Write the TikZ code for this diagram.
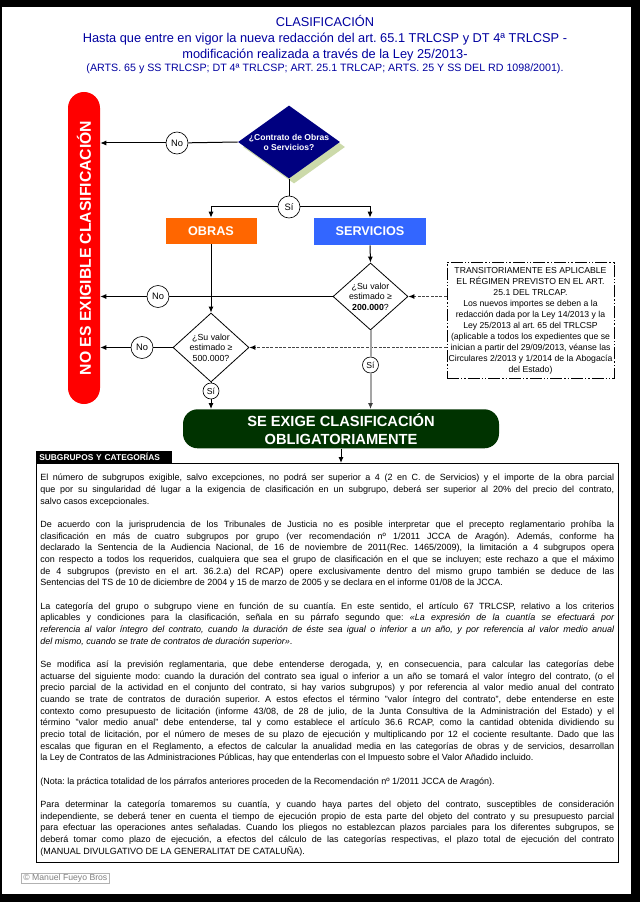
\documentclass[tikz,border=0pt]{standalone}
\usepackage{fontspec}
\setmainfont{Liberation Sans}
\usepackage{graphicx}
\usetikzlibrary{shapes.geometric,arrows.meta,shadows}
\definecolor{titleblue}{RGB}{0,0,160}
\definecolor{navyd}{RGB}{0,0,128}
\definecolor{shadowg}{RGB}{204,218,170}
\definecolor{obrasor}{RGB}{255,102,0}
\definecolor{servbl}{RGB}{51,102,255}
\definecolor{exigegr}{RGB}{0,51,0}
\definecolor{redbarc}{RGB}{255,0,0}
\definecolor{grayline}{RGB}{165,165,165}
\definecolor{copygray}{RGB}{128,128,128}
\definecolor{dashgray}{RGB}{70,70,70}
\frenchspacing
\begin{document}
\begin{tikzpicture}[x=0.75pt,y=-0.75pt,
  conn/.style={line width=0.75pt, draw=black},
  arr/.style={conn,-{Latex[length=4.5pt,width=3.75pt]}},
  lbl/.style={circle, draw=black, fill=white, line width=0.5pt, inner sep=0pt, minimum size=16.5pt, font=\fontsize{7}{8}\selectfont},
  lbls/.style={lbl, minimum size=12pt, font=\fontsize{6.5}{7.5}\selectfont},
  dec/.style={diamond, draw=black, line width=0.6pt, fill=white, inner sep=0pt},
  dectext/.style={font=\fontsize{6.6}{7.9}\selectfont, align=center},
  colbox/.style={text=white, inner sep=0pt, font=\fontsize{9.5}{10}\selectfont\bfseries},
  titletext/.style={text=titleblue, inner sep=0pt, anchor=base, font=\fontsize{9.6}{11}\selectfont},
  dashconn/.style={line width=0.75pt, draw=dashgray, dash pattern=on 2.25pt off 1pt, -{Latex[length=4.5pt,width=3.75pt,black]}}
]
\fill[black] (0,0) rectangle (640,902);
\fill[white] (2,7) rectangle (631,894);
\useasboundingbox (0,0) rectangle (640,902);

% titles
\node[titletext] (t1) at (325,26.6) {CLASIFICACIÓN};
\node[titletext] (t2) at (325,42.6) {Hasta que entre en vigor la nueva redacción del art. 65.1 TRLCSP y DT 4ª TRLCSP -};
\node[titletext] (t3) at (325,58.6) {modificación realizada a través de la Ley 25/2013-};
\node[titletext, font=\fontsize{8}{9}\selectfont] (t4) at (325,71.8) {(ARTS. 65 y SS TRLCSP; DT 4ª TRLCSP; ART. 25.1 TRLCAP; ARTS. 25 Y SS DEL RD 1098/2001).};

% red bar
\node[fill=redbarc, rounded corners=12pt, minimum width=24pt, minimum height=234pt, inner sep=0pt, text=white] (noexig) at (84,248)
  {\rotatebox{90}{\fontsize{11.8}{12}\selectfont\bfseries NO ES EXIGIBLE CLASIFICACIÓN}};

% diamond 1
\node[diamond, fill=navyd, draw=none, inner sep=0pt, minimum width=76.5pt, minimum height=54.75pt,
  general shadow={fill=shadowg, shadow xshift=3.75pt, shadow yshift=-3.75pt},
  label={[font=\fontsize{6.4}{7.5}\selectfont\bfseries, text=white, align=center]center:{¿Contrato de Obras\\o Servicios?}}] (d1) at (289,142) {};

\node[lbl] (no1) at (177,143) {No};
\node[lbl] (si1) at (289,207) {Sí};

\node[colbox, fill=obrasor, minimum width=68.25pt, minimum height=19.5pt] (obras) at (211,231) {OBRAS};
\node[colbox, fill=servbl, minimum width=84pt, minimum height=20.25pt] (serv) at (370,231.5) {SERVICIOS};

\node[dec, minimum width=56.25pt, minimum height=50.25pt,
  label={[dectext]center:{¿Su valor\\estimado ≥\\\textbf{200.000}?}}] (d2) at (370.5,296.5) {};
\node[dec, minimum width=57pt, minimum height=51.75pt,
  label={[dectext]center:{¿Su valor\\estimado ≥\\500.000?}}] (d3) at (211,347.5) {};

\node[lbl] (no2) at (158,296.5) {No};
\node[lbl] (no3) at (142,347.5) {No};
\node[lbls] (si2) at (370.5,365) {Sí};
\node[lbls] (si3) at (211,391) {Sí};

% transitorio box
\node[draw=black, line width=0.75pt, dash pattern=on 9pt off 1.5pt on 1pt off 1.5pt on 1pt off 1.5pt,
  minimum width=125.25pt, minimum height=86.25pt, inner xsep=1pt, align=center,
  font=\fontsize{6.5}{8.25}\selectfont] (trans) at (530.5,320.5)
  {TRANSITORIAMENTE ES APLICABLE\\EL RÉGIMEN PREVISTO EN EL ART.\\25.1 DEL TRLCAP.\\Los nuevos importes se deben a la\\redacción dada por la Ley 14/2013 y la\\Ley 25/2013 al art. 65 del TRLCSP\\(aplicable a todos los expedientes que se\\inician a partir del 29/09/2013, véanse las\\Circulares 2/2013 y 1/2014 de la Abogacía\\del Estado)};

% exige
\node[fill=exigegr, rounded corners=11pt, minimum width=237pt, minimum height=29.25pt, inner sep=0pt,
  text=white, align=center, font=\fontsize{11}{13.5}\selectfont\bfseries] (exige) at (341,428.8)
  {SE EXIGE CLASIFICACIÓN\\OBLIGATORIAMENTE};

% text box
\node[draw=black, line width=0.75pt, minimum width=436.5pt, minimum height=299.25pt, inner sep=0pt, anchor=north west] (tbox) at (36,463) {};
\node[fill=black, text=white, anchor=south west, text width=97.5pt, inner xsep=2.25pt, inner ysep=0pt,
  minimum height=9.75pt, font=\fontsize{6.3}{7}\selectfont\bfseries] (hdr) at (36,464) {SUBGRUPOS Y CATEGORÍAS};

\node[anchor=north west, inner sep=0pt, text width=430.5pt, align=justify,
  font=\fontsize{6.75}{8.745}\selectfont] (body) at (40,474) {%
\frenchspacing\hyphenpenalty=10000 \exhyphenpenalty=10000 \tolerance=9999 \emergencystretch=20pt \parskip=8.745pt
El número de subgrupos exigible, salvo excepciones, no podrá ser superior a 4 (2 en C. de Servicios) y el importe de la obra parcial\linebreak
que por su singularidad dé lugar a la exigencia de clasificación en un subgrupo, deberá ser superior al 20\% del precio del contrato,\linebreak
salvo casos excepcionales.\par
De acuerdo con la jurisprudencia de los Tribunales de Justicia no es posible interpretar que el precepto reglamentario prohíba la\linebreak
clasificación en más de cuatro subgrupos por grupo (ver recomendación nº 1/2011 JCCA de Aragón). Además, conforme ha\linebreak
declarado la Sentencia de la Audiencia Nacional, de 16 de noviembre de 2011(Rec. 1465/2009), la limitación a 4 subgrupos opera\linebreak
con respecto a todos los requeridos, cualquiera que sea el grupo de clasificación en el que se incluyen; este rechazo a que el máximo\linebreak
de 4 subgrupos (previsto en el art. 36.2.a) del RCAP) opere exclusivamente dentro del mismo grupo también se deduce de las\linebreak
Sentencias del TS de 10 de diciembre de 2004 y 15 de marzo de 2005 y se declara en el informe 01/08 de la JCCA.\par
La categoría del grupo o subgrupo viene en función de su cuantía. En este sentido, el artículo 67 TRLCSP, relativo a los criterios\linebreak
aplicables y condiciones para la clasificación, señala en su párrafo segundo que: {\itshape «La expresión de la cuantía se efectuará por\linebreak
referencia al valor íntegro del contrato, cuando la duración de éste sea igual o inferior a un año, y por referencia al valor medio anual\linebreak
del mismo, cuando se trate de contratos de duración superior»}.\par
Se modifica así la previsión reglamentaria, que debe entenderse derogada, y, en consecuencia, para calcular las categorías debe\linebreak
actuarse del siguiente modo: cuando la duración del contrato sea igual o inferior a un año se tomará el valor íntegro del contrato, (o el\linebreak
precio parcial de la actividad en el conjunto del contrato, si hay varios subgrupos) y por referencia al valor medio anual del contrato\linebreak
cuando se trate de contratos de duración superior. A estos efectos el término "valor íntegro del contrato", debe entenderse en este\linebreak
contexto como presupuesto de licitación (informe 43/08, de 28 de julio, de la Junta Consultiva de la Administración del Estado) y el\linebreak
término "valor medio anual" debe entenderse, tal y como establece el artículo 36.6 RCAP, como la cantidad obtenida dividiendo su\linebreak
precio total de licitación, por el número de meses de su plazo de ejecución y multiplicando por 12 el cociente resultante. Dado que las\linebreak
escalas que figuran en el Reglamento, a efectos de calcular la anualidad media en las categorías de obras y de servicios, desarrollan\linebreak
la Ley de Contratos de las Administraciones Públicas, hay que entenderlas con el Impuesto sobre el Valor Añadido incluido.\par
(Nota: la práctica totalidad de los párrafos anteriores proceden de la Recomendación nº 1/2011 JCCA de Aragón).\par
Para determinar la categoría tomaremos su cuantía, y cuando haya partes del objeto del contrato, susceptibles de consideración\linebreak
independiente, se deberá tener en cuenta el tiempo de ejecución propio de esta parte del objeto del contrato y su presupuesto parcial\linebreak
para efectuar las operaciones antes señaladas. Cuando los pliegos no establezcan plazos parciales para los diferentes subgrupos, se\linebreak
deberá tomar como plazo de ejecución, a efectos del cálculo de las categorías respectivas, el plazo total de ejecución del contrato\linebreak
(MANUAL DIVULGATIVO DE LA GENERALITAT DE CATALUÑA).\par
};

\node[draw=black!30, line width=0.6pt, text=copygray, font=\fontsize{6.5}{7}\selectfont, inner xsep=1.5pt, inner ysep=1pt, anchor=west] (copy) at (21,878.5) {© Manuel Fueyo Bros};

% connectors
\draw[conn] (d1.west) -- (no1);
\draw[arr] (no1) -- (no1 -| noexig.east);
\draw[conn] (d1.south) -- (si1);
\draw[arr] (si1) -| (obras.north);
\draw[arr] (si1) -| (serv.north);
\draw[arr] (serv.south) -- (d2.north);
\draw[conn] (d2.west) -- (no2);
\draw[arr] (no2) -- (no2 -| noexig.east);
\draw[arr] (obras.south) -- (d3.north);
\draw[conn] (d3.west) -- (no3);
\draw[arr] (no3) -- (no3 -| noexig.east);
\draw[conn] (d3.south) -- (si3);
\draw[arr] (si3) -- (si3 |- exige.north);
\draw[dashconn] (d2.east -| trans.west) -- (d2.east);
\draw[dashconn] (d3.east -| trans.west) -- (d3.east);
\draw[line width=1.5pt, draw=grayline] (d2.south) -- (si2);
\draw[line width=1.5pt, draw=grayline, -{Latex[length=4.5pt,width=3.75pt,black!75]}] (si2) -- (si2 |- exige.north);
\draw[arr] (exige.south) -- (exige.south |- tbox.north);
\end{tikzpicture}
\end{document}
